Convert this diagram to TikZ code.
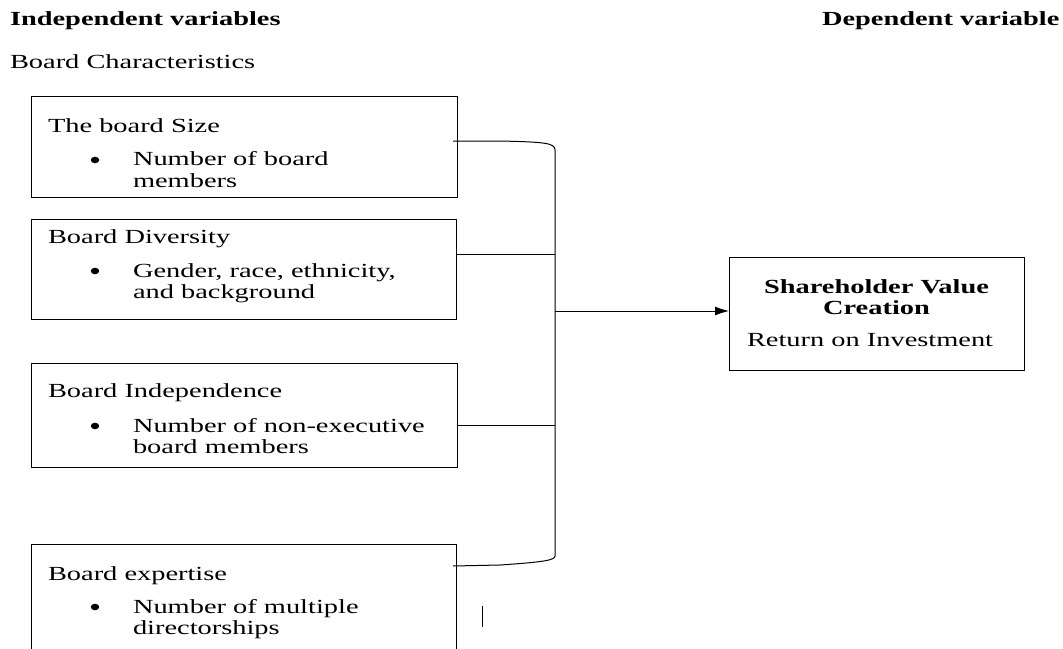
\documentclass[tikz,border=0pt]{standalone}
\usepackage{fontspec}
\setmainfont{Liberation Serif}[FakeStretch=1.42]
\usetikzlibrary{arrows.meta}
\begin{document}
\begin{tikzpicture}[x=1pt,y=-1pt,
  every node/.style={inner sep=0pt,outer sep=0pt},
  txt/.style={anchor=base west,font=\fontsize{20}{22}\selectfont},
  btxt/.style={anchor=base west,font=\fontsize{20}{22}\selectfont\bfseries},
  ctxt/.style={anchor=base,font=\fontsize{20}{22}\selectfont\bfseries},
  varbox/.style={draw,line width=1pt},
  bul/.style={fill=black},
  conn/.style={line width=1pt},
  arr/.style={line width=1pt,-{Latex[length=14pt,width=9pt]}}]
\useasboundingbox (0,0) rectangle (1063,648);
\clip (0,0) rectangle (1063,648);
% headers
\node[btxt] (hind) at (10,25) {Independent variables};
\node[btxt] (hdep) at (822,25) {Dependent variable};
\node[txt] (hchar) at (10,68) {Board Characteristics};
% boxes
\draw[varbox] (31,96) rectangle (457,197);
\node (b1) at (244,146.5) {};
\draw[varbox] (31,219) rectangle (456,319);
\node (b2) at (243.5,269) {};
\draw[varbox] (31,363) rectangle (457,467);
\node (b3) at (244,415) {};
\draw[varbox] (31,544) rectangle (456,670);
\node (b4) at (243.5,600) {};
\draw[varbox] (729,257) rectangle (1024,370);
\node (dv) at (876.5,313.5) {};
% bullets
\fill[bul] (95,160) ellipse [x radius=4.2pt, y radius=3.3pt];
\fill[bul] (95,271) ellipse [x radius=4.2pt, y radius=3.3pt];
\fill[bul] (95,426) ellipse [x radius=4.2pt, y radius=3.3pt];
\fill[bul] (95,607) ellipse [x radius=4.2pt, y radius=3.3pt];
% box 1 text
\node[txt] (t1a) at (48,132) {The board Size};
\node[txt] (t1c) at (133,165) {Number of board};
\node[txt] (t1d) at (133,187) {members};
% box 2 text
\node[txt] (t2a) at (48,243) {Board Diversity};
\node[txt] (t2c) at (133,277) {Gender, race, ethnicity,};
\node[txt] (t2d) at (133,298) {and background};
% box 3 text
\node[txt] (t3a) at (48,397) {Board Independence};
\node[txt] (t3c) at (133,432) {Number of non-executive};
\node[txt] (t3d) at (133,453) {board members};
% box 4 text
\node[txt] (t4a) at (48,580) {Board expertise};
\node[txt] (t4c) at (133,613) {Number of multiple};
\node[txt] (t4d) at (133,634) {directorships};
% dependent box text
\node[ctxt] (d1) at (876.5,293) {Shareholder Value};
\node[ctxt] (d2) at (876.5,314) {Creation};
\node[txt] (d3) at (747,346) {Return on Investment};
% connector coordinates
\coordinate (s1) at (453,141);
\coordinate (s2) at (456,254);
\coordinate (s3) at (457,425);
\coordinate (s4) at (453,566);
\coordinate (jtop) at (555,150);
\coordinate (jbot) at (555,556);
\coordinate (j2) at (555,254);
\coordinate (j3) at (555,425);
\coordinate (jm) at (555,311);
\coordinate (tickA) at (482,606);
\coordinate (tickB) at (482,627);
% bracket
\draw[conn] (s1) -- (500,141) .. controls (545,142) and (555,143) .. (jtop)
  -- (jbot) .. controls (555,560) and (545,562) .. (500,565) -- (s4);
\draw[conn] (s2) -- (j2);
\draw[conn] (s3) -- (j3);
\draw[arr] (jm) -- (jm -| 729,0);
\draw[conn] (tickA) -- (tickB);
\end{tikzpicture}
\end{document}
